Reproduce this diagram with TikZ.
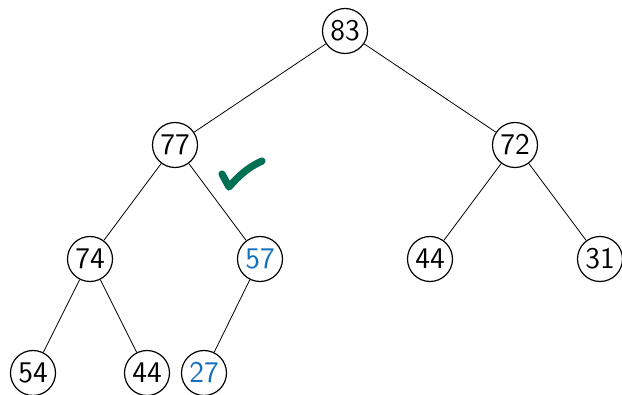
\documentclass[tikz,border=0pt]{standalone}
\usetikzlibrary{positioning}
\definecolor{movedcolor}{RGB}{20,112,190}
\definecolor{checkcolor}{RGB}{0,112,84}
\tikzset{
  heapnode/.style={
    circle,
    draw=black,
    line width=0.6pt,
    minimum size=22.5pt,
    inner sep=0pt,
    font=\sffamily\fontsize{15}{18}\selectfont
  },
  moved/.style={
    heapnode,
    text=movedcolor
  },
  edge/.style={
    line width=0.4pt
  },
  checkmark/.style={
    checkcolor,
    line width=3.6pt,
    line cap=round,
    line join=round
  }
}
\begin{document}
\begin{tikzpicture}[x=0.5pt, y=-0.5pt, on grid]
\useasboundingbox (0,0) rectangle (622,395);

% Nodes
\node[heapnode] (root) at (345,31) {83};

\node[heapnode, below left=57pt and 85pt of root] (left) {77};
\node[heapnode, below right=57pt and 85pt of root] (right) {72};

\node[heapnode, below left=57pt and 42.5pt of left] (ll) {74};
\node[moved, below right=57pt and 42.5pt of left] (lr) {57};
\node[heapnode, below left=57pt and 42.5pt of right] (rl) {44};
\node[heapnode, below right=57pt and 42.5pt of right] (rr) {31};

\node[heapnode, below left=57pt and 28.5pt of ll] (lll) {54};
\node[heapnode, below right=57pt and 28.5pt of ll] (llr) {44};
\node[moved, below left=57pt and 28pt of lr] (lrl) {27};

% Edges
\draw[edge] (root) -- (left);
\draw[edge] (root) -- (right);
\draw[edge] (left) -- (ll);
\draw[edge] (left) -- (lr);
\draw[edge] (right) -- (rl);
\draw[edge] (right) -- (rr);
\draw[edge] (ll) -- (lll);
\draw[edge] (ll) -- (llr);
\draw[edge] (lr) -- (lrl);

% Check mark
\draw[checkmark] (222,174) .. controls (225,180) .. (229,187)
  .. controls (241,173) and (251,166) .. (262,161);

\end{tikzpicture}
\end{document}
